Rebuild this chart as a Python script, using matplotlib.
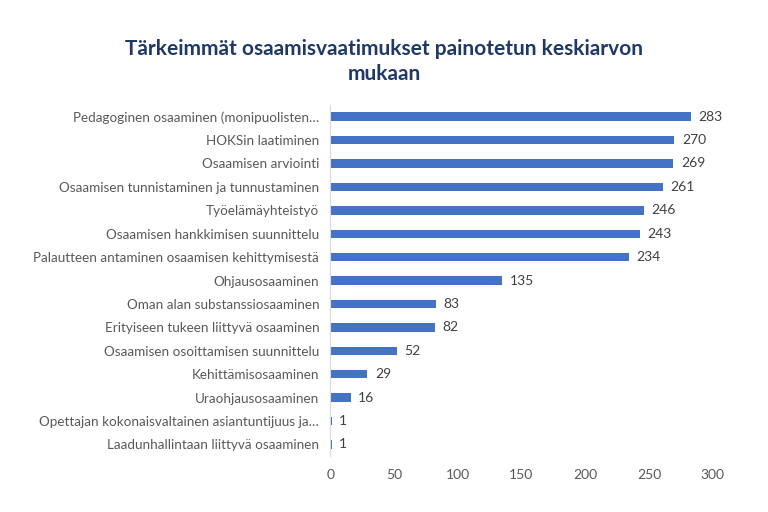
import matplotlib.pyplot as plt

# Osaamisvaatimukset ja painotettu keskiarvo (ylhäältä alas)
osaamiset = [
    "Pedagoginen osaaminen (monipuolisten…",
    "HOKSin laatiminen",
    "Osaamisen arviointi",
    "Osaamisen tunnistaminen ja tunnustaminen",
    "Työelämäyhteistyö",
    "Osaamisen hankkimisen suunnittelu",
    "Palautteen antaminen osaamisen kehittymisestä",
    "Ohjausosaaminen",
    "Oman alan substanssiosaaminen",
    "Erityiseen tukeen liittyvä osaaminen",
    "Osaamisen osoittamisen suunnittelu",
    "Kehittämisosaaminen",
    "Uraohjausosaaminen",
    "Opettajan kokonaisvaltainen asiantuntijuus ja…",
    "Laadunhallintaan liittyvä osaaminen",
]
arvot = [283, 270, 269, 261, 246, 243, 234, 135, 83, 82, 52, 29, 16, 1, 1]
xtikit = [0, 50, 100, 150, 200, 250, 300]

plt.rcParams["font.family"] = ["Lato", "DejaVu Sans"]

fig = plt.figure(figsize=(7.68, 5.12), dpi=100)
ax = fig.add_axes([0.43, 0.109, 0.498, 0.686])

y = list(range(len(osaamiset)))
ax.barh(y, arvot, height=0.36, color="#4472C4")
ax.set_ylim(len(osaamiset) - 0.5, -0.5)
ax.set_xlim(0, 300)
ax.set_xticks(xtikit)
ax.set_yticks(y)
ax.set_yticklabels(osaamiset)

for yi, v in zip(y, arvot):
    ax.text(v + 6, yi, str(v), va="center", ha="left", fontsize=10, color="#404040")

ax.tick_params(axis="x", length=0, labelsize=10, labelcolor="#595959", pad=9)
ax.tick_params(axis="y", length=0, labelsize=9.7, labelcolor="#595959", pad=8)
for s in ["top", "right", "bottom"]:
    ax.spines[s].set_visible(False)
ax.spines["left"].set_color("#D9D9D9")

fig.text(0.5, 0.88, "Tärkeimmät osaamisvaatimukset painotetun keskiarvon\nmukaan",
         ha="center", va="center", fontsize=15, fontweight="bold",
         color="#1F3864", linespacing=1.35)

fig.savefig("out.png", dpi=100, facecolor="white")
